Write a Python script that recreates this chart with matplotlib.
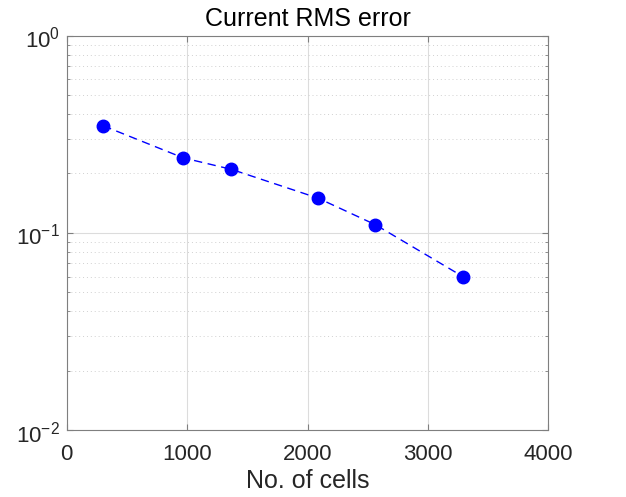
import numpy as np
import matplotlib
matplotlib.use('Agg')
import matplotlib.pyplot as plt
import matplotlib.transforms as mtransforms
from matplotlib.ticker import LogLocator, NullFormatter

# datos
n_cells = [304, 968, 1367, 2087, 2563, 3294]
rms_error = [0.349, 0.240, 0.210, 0.150, 0.110, 0.0598]
x_ticks = [0, 1000, 2000, 3000, 4000]
y_ticks = [1e-2, 1e-1, 1e0]

plt.rcParams['font.family'] = ['Liberation Sans', 'DejaVu Sans']
plt.rcParams['mathtext.fontset'] = 'custom'
plt.rcParams['mathtext.rm'] = 'Liberation Sans'

fig = plt.figure(figsize=(6.26, 4.97), dpi=100)
ax = fig.add_axes([0.1066, 0.1348, 0.7694, 0.7934])

ax.plot(n_cells, rms_error, '--o', color='#0000ff', lw=1.0,
        markersize=9, dashes=(6, 4), zorder=3)

ax.set_yscale('log')
ax.set_xlim(0, 4000)
ax.set_ylim(1e-2, 1e0)
ax.set_xticks(x_ticks)
ax.set_yticks(y_ticks)
ax.set_yticklabels([r'$\mathregular{10^{-2}}$', r'$\mathregular{10^{-1}}$', r'$\mathregular{10^{0}}$'],
                   va='center')
ax.yaxis.set_minor_locator(LogLocator(base=10, subs=np.arange(2, 10)))
ax.yaxis.set_minor_formatter(NullFormatter())

ax.grid(True, which='major', color='#dcdcdc', lw=0.8)
ax.grid(True, which='minor', axis='y', color='#d0d0d0', lw=0.7, linestyle=(0, (1, 3)))
ax.set_axisbelow(True)

for s in ax.spines.values():
    s.set_color('#7f7f7f')
    s.set_linewidth(0.8)
ax.tick_params(which='both', direction='in', colors='#7f7f7f', labelcolor='#262626',
               labelsize=16, top=True, right=True)
ax.tick_params(which='major', length=4)
ax.tick_params(which='minor', length=2.5)
ax.tick_params(axis='x', pad=10)
ax.tick_params(axis='y', pad=5)

# bajar un poco las etiquetas del eje y (como en matlab)
desplazar = mtransforms.ScaledTranslation(0, -3 / 72, fig.dpi_scale_trans)
for lbl in ax.get_yticklabels():
    lbl.set_transform(lbl.get_transform() + desplazar)

ax.set_xlabel('No. of cells', fontsize=18, color='#262626', labelpad=3)
ax.set_title('Current RMS error', fontsize=18, color='#000000', pad=7)

fig.savefig('out.png', dpi=100)
